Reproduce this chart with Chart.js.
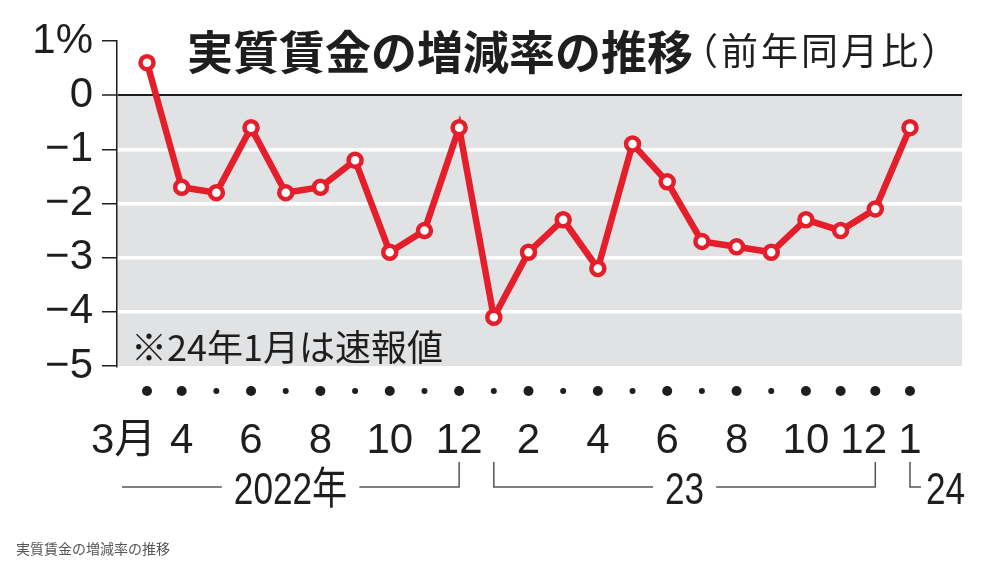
<!DOCTYPE html>
<html>
<head>
<meta charset="utf-8">
<script src="https://cdn.jsdelivr.net/npm/chart.js@4/dist/chart.umd.min.js"></script>
<style>
  html, body { margin: 0; padding: 0; background: #fff; }
  #wrap { position: relative; width: 1000px; height: 567px; overflow: hidden; }
  canvas { position: absolute; left: 0; top: 0; }
  .txt { position: absolute; white-space: nowrap; color: #1e1e1e; font-family: "Noto Sans CJK JP", sans-serif; line-height: 1; }
  #title { left: 187px; top: 26px; font-size: 46px; font-weight: 700; }
  #sub { left: 681px; top: 31px; font-size: 37px; font-weight: 400; letter-spacing: 3px; }
  #note { left: 131px; top: 327px; font-size: 36px; font-weight: 400; }
  #cap { left: 16px; top: 541px; font-size: 14px; color: #555; }
</style>
</head>
<body>
<div id="wrap">
  <canvas id="c" width="1000" height="567"></canvas>
  <div class="txt" id="title">実質賃金の増減率の推移</div>
  <div class="txt" id="sub">（前年同月比）</div>
  <div class="txt" id="note">※24年1月は速報値</div>
  <div class="txt" id="cap">実質賃金の増減率の推移</div>
</div>
<script>
// ---- data ----
const categories = ['2022-03','2022-04','2022-05','2022-06','2022-07','2022-08','2022-09','2022-10','2022-11','2022-12',
                    '2023-01','2023-02','2023-03','2023-04','2023-05','2023-06','2023-07','2023-08','2023-09','2023-10','2023-11','2023-12',
                    '2024-01'];
const values = [0.6, -1.7, -1.8, -0.6, -1.8, -1.7, -1.2, -2.9, -2.5, -0.6,
                -4.1, -2.9, -2.3, -3.2, -0.9, -1.6, -2.7, -2.8, -2.9, -2.3, -2.5, -2.1,
                -0.6];
const xTickLabels = ['3月    ','4','','6','','8','','10','','12',
                     '','2','','4','','6','','8','','10','','12  ',
                     '1'];
const majorTicks = [1,1,0,1,0,1,0,1,0,1, 0,1,0,1,0,1,0,1,0,1,1,1, 1];
const yTickValues = [1, 0, -1, -2, -3, -4, -5];
const yTickLabels = ['1%', '0', '−1', '−2', '−3', '−4', '−5'];
const yearLabels = ['2022年', '23', '24'];
const yearStart = [0, 10, 22];
const yearEnd = [9, 21, 22];

const RED = '#e41f2b';
const GRAY_BG = '#e1e2e4';
const INK = '#1e1e1e';

const bgPlugin = {
  id: 'bg',
  beforeDraw(chart) {
    const { ctx, chartArea: a, scales: { y } } = chart;
    ctx.save();
    ctx.fillStyle = GRAY_BG;
    const y0 = y.getPixelForValue(0), y5 = y.getPixelForValue(-5);
    ctx.fillRect(a.left, y0, a.right - a.left, y5 - y0);
    ctx.restore();
  }
};

function condensedText(ctx, text, x, y, align, sx) {
  ctx.save();
  ctx.translate(x, y);
  ctx.scale(sx, 1);
  ctx.textAlign = align;
  ctx.fillText(text, 0, 0);
  ctx.restore();
}

const axisDecor = {
  id: 'axisDecor',
  afterDraw(chart) {
    const { ctx, scales: { x }, chartArea: a } = chart;
    ctx.save();
    // dots row
    const dotY = a.bottom + 25;
    ctx.fillStyle = INK;
    categories.forEach((c, i) => {
      const px = x.getPixelForValue(i);
      ctx.beginPath();
      ctx.arc(px, dotY, majorTicks[i] ? 5 : 3, 0, Math.PI * 2);
      ctx.fill();
    });
    // year brackets
    const SX = 0.8;
    const lineY = a.bottom + 121;
    const vTop = a.bottom + 96;
    const textY = a.bottom + 126;
    ctx.font = "44px 'Liberation Sans', 'Noto Sans CJK JP', sans-serif";
    ctx.textBaseline = 'middle';
    ctx.strokeStyle = '#555';
    ctx.lineWidth = 1.5;
    yearLabels.forEach((lab, k) => {
      const xs = yearStart[k] === 0 ? a.left + 5 : x.getPixelForValue(yearStart[k]);
      const xe = x.getPixelForValue(yearEnd[k]);
      const w = ctx.measureText(lab).width * SX;
      ctx.fillStyle = INK;
      ctx.beginPath();
      if (k === yearLabels.length - 1) {
        ctx.moveTo(xs, vTop); ctx.lineTo(xs, lineY); ctx.lineTo(xs + 11, lineY);
        ctx.stroke();
        condensedText(ctx, lab, xs + 16, textY, 'left', SX);
        return;
      }
      const mid = (xs + xe) / 2;
      if (yearStart[k] !== 0) { ctx.moveTo(xs, vTop); ctx.lineTo(xs, lineY); }
      else { ctx.moveTo(xs, lineY); }
      ctx.lineTo(mid - w / 2 - 12, lineY);
      ctx.moveTo(mid + w / 2 + 12, lineY);
      ctx.lineTo(xe, lineY);
      ctx.lineTo(xe, vTop);
      ctx.stroke();
      condensedText(ctx, lab, mid, textY, 'center', SX);
    });
    ctx.restore();
  }
};

new Chart(document.getElementById('c'), {
  type: 'line',
  data: {
    labels: categories,
    datasets: [{
      data: values.map((v, i) => ({ x: i, y: v })),
      borderColor: RED,
      borderWidth: 6.5,
      tension: 0,
      pointRadius: 6.5,
      pointBorderWidth: 4.5,
      pointBackgroundColor: '#fff',
      pointBorderColor: RED,
      clip: false
    }]
  },
  options: {
    responsive: false,
    devicePixelRatio: 1,
    animation: false,
    layout: { padding: { top: 41, right: 38, bottom: 0, left: 0 } },
    plugins: { legend: { display: false }, tooltip: { enabled: false }, title: { display: false } },
    scales: {
      x: {
        type: 'linear',
        min: -0.865,
        max: 23.5,
        afterBuildTicks(s) { s.ticks = categories.map((c, i) => ({ value: i })); },
        afterFit(s) { s.height = 567 - 366; },
        grid: { display: false },
        border: { display: false },
        ticks: {
          autoSkip: false,
          maxRotation: 0,
          padding: 46,
          color: INK,
          font: { family: "'Liberation Sans', 'Noto Sans CJK JP', sans-serif", size: 42, lineHeight: 1 },
          callback: (v) => xTickLabels[v] ?? ''
        }
      },
      y: {
        min: -5,
        max: 1,
        afterBuildTicks(s) { s.ticks = yTickValues.map(v => ({ value: v })); },
        afterFit(s) { s.width = 117; },
        border: { display: true, color: INK, width: 1.5 },
        grid: {
          color: (c) => {
            const v = c.tick && c.tick.value;
            if (v === 0) return INK;
            if (v === 1 || v === -5) return 'rgba(0,0,0,0)';
            return '#ffffff';
          },
          lineWidth: (c) => (c.tick && c.tick.value === 0 ? 2 : 3.5),
          tickColor: INK,
          tickWidth: 1.5,
          tickLength: 15
        },
        ticks: {
          padding: 9,
          color: INK,
          font: { family: "'Liberation Sans', sans-serif", size: 42, lineHeight: 1 },
          callback: (v) => yTickLabels[yTickValues.indexOf(v)]
        }
      }
    }
  },
  plugins: [bgPlugin, axisDecor]
});
</script>
</body>
</html>
